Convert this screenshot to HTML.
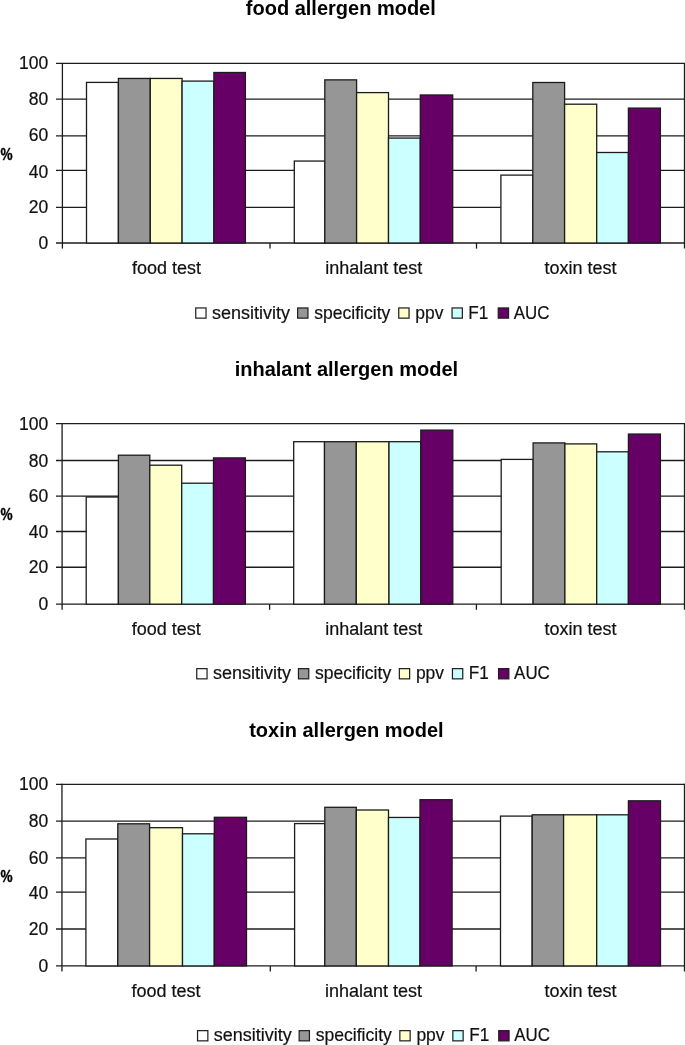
<!DOCTYPE html>
<html><head><meta charset="utf-8"><title>allergen models</title>
<style>
html,body{margin:0;padding:0;background:#fff;}
body{width:685px;height:1045px;overflow:hidden;}
svg{display:block;}
text{font-family:"Liberation Sans",Arial,sans-serif;fill:#111;}
.y,.c,.l{stroke:#111;stroke-width:0.2px;}
.t{font-weight:bold;font-size:20px;text-anchor:middle;fill:#000;}
.y{font-size:17.5px;text-anchor:end;}
.c{font-size:18px;text-anchor:middle;}
.l{font-size:18px;}
.p{font-weight:bold;font-size:17px;fill:#000;stroke:#000;stroke-width:0.4px;stroke-linejoin:round;}
</style></head><body>
<svg width="685" height="1045" viewBox="0 0 685 1045">
<rect width="685" height="1045" fill="#fff"/>

<g>
<text class="t" x="340.8" y="15.4">food allergen model</text>
<g stroke="#1c1c1c" stroke-width="1.3" fill="none">
<line x1="56" y1="63.40" x2="685" y2="63.40"/>
<line x1="56" y1="99.10" x2="685" y2="99.10"/>
<line x1="56" y1="135.90" x2="685" y2="135.90"/>
<line x1="56" y1="170.40" x2="685" y2="170.40"/>
<line x1="56" y1="207.40" x2="685" y2="207.40"/>
<line x1="56" y1="243.00" x2="685" y2="243.00"/>
<line x1="62.4" y1="62.90" x2="62.4" y2="248.60"/>
<line x1="270.00" y1="243.00" x2="270.00" y2="248.60"/>
<line x1="476.50" y1="243.00" x2="476.50" y2="248.60"/>
<line x1="684.50" y1="62.90" x2="684.50" y2="248.60"/>
</g>
<text class="y" x="48.3" y="68.8">100</text>
<text class="y" x="48.3" y="104.7">80</text>
<text class="y" x="48.3" y="141.1">60</text>
<text class="y" x="48.3" y="177.6">40</text>
<text class="y" x="48.3" y="213.2">20</text>
<text class="y" x="48.3" y="248.5">0</text>
<text class="p" transform="translate(0.5 159.6) scale(0.8 1)">%</text>
<g stroke="#1c1c1c" stroke-width="1.3">
<rect x="86.50" y="82.40" width="31.90" height="160.60" fill="#ffffff"/>
<rect x="118.40" y="78.45" width="31.90" height="164.55" fill="#969696"/>
<rect x="150.30" y="78.45" width="31.80" height="164.55" fill="#ffffcc"/>
<rect x="182.10" y="81.10" width="31.80" height="161.90" fill="#ccffff"/>
<rect x="213.90" y="72.50" width="31.50" height="170.50" fill="#660066"/>
<rect x="294.30" y="161.06" width="30.50" height="81.94" fill="#ffffff"/>
<rect x="324.80" y="79.86" width="31.80" height="163.14" fill="#969696"/>
<rect x="356.60" y="92.60" width="31.90" height="150.40" fill="#ffffcc"/>
<rect x="388.50" y="138.07" width="31.80" height="104.93" fill="#ccffff"/>
<rect x="420.30" y="94.97" width="32.40" height="148.03" fill="#660066"/>
<rect x="500.90" y="175.10" width="31.90" height="67.90" fill="#ffffff"/>
<rect x="532.80" y="82.50" width="31.80" height="160.50" fill="#969696"/>
<rect x="564.60" y="104.20" width="32.10" height="138.80" fill="#ffffcc"/>
<rect x="596.70" y="152.50" width="31.70" height="90.50" fill="#ccffff"/>
<rect x="628.40" y="108.10" width="32.00" height="134.90" fill="#660066"/>
</g>
<text class="c" x="166.5" y="274.2">food test</text>
<text class="c" x="373.8" y="274.2">inhalant test</text>
<text class="c" x="580.6" y="274.2">toxin test</text>
<rect x="195.75" y="307.95" width="10.3" height="10.2" fill="#ffffff" stroke="#1c1c1c" stroke-width="1.2"/>
<text class="l" transform="translate(211.90 318.6) scale(1.0 1)">sensitivity</text>
<rect x="297.65" y="307.95" width="10.3" height="10.2" fill="#969696" stroke="#1c1c1c" stroke-width="1.2"/>
<text class="l" transform="translate(314.20 318.6) scale(0.977 1)">specificity</text>
<rect x="398.75" y="307.95" width="10.3" height="10.2" fill="#ffffcc" stroke="#1c1c1c" stroke-width="1.2"/>
<text class="l" transform="translate(415.30 318.6) scale(0.97 1)">ppv</text>
<rect x="452.05" y="307.95" width="10.3" height="10.2" fill="#ccffff" stroke="#1c1c1c" stroke-width="1.2"/>
<text class="l" transform="translate(468.35 318.6) scale(0.955 1)">F1</text>
<rect x="498.25" y="307.95" width="10.3" height="10.2" fill="#660066" stroke="#1c1c1c" stroke-width="1.2"/>
<text class="l" transform="translate(513.80 318.6) scale(0.94 1)">AUC</text>
</g>
<g>
<text class="t" x="346.4" y="375.5">inhalant allergen model</text>
<g stroke="#1c1c1c" stroke-width="1.3" fill="none">
<line x1="56" y1="423.60" x2="685" y2="423.60"/>
<line x1="56" y1="460.50" x2="685" y2="460.50"/>
<line x1="56" y1="496.20" x2="685" y2="496.20"/>
<line x1="56" y1="531.50" x2="685" y2="531.50"/>
<line x1="56" y1="567.26" x2="685" y2="567.26"/>
<line x1="56" y1="604.17" x2="685" y2="604.17"/>
<line x1="62.1" y1="423.10" x2="62.1" y2="609.77"/>
<line x1="269.60" y1="604.17" x2="269.60" y2="609.77"/>
<line x1="476.40" y1="604.17" x2="476.40" y2="609.77"/>
<line x1="684.50" y1="423.10" x2="684.50" y2="609.77"/>
</g>
<text class="y" x="48.3" y="429.7">100</text>
<text class="y" x="48.3" y="466.6">80</text>
<text class="y" x="48.3" y="501.9">60</text>
<text class="y" x="48.3" y="538.4">40</text>
<text class="y" x="48.3" y="572.6">20</text>
<text class="y" x="48.3" y="610.0">0</text>
<text class="p" transform="translate(0.5 519.7) scale(0.8 1)">%</text>
<g stroke="#1c1c1c" stroke-width="1.3">
<rect x="86.20" y="497.00" width="32.20" height="107.17" fill="#ffffff"/>
<rect x="118.40" y="455.20" width="31.40" height="148.97" fill="#969696"/>
<rect x="149.80" y="465.20" width="31.90" height="138.97" fill="#ffffcc"/>
<rect x="181.70" y="483.20" width="31.80" height="120.97" fill="#ccffff"/>
<rect x="213.50" y="457.90" width="31.90" height="146.27" fill="#660066"/>
<rect x="293.70" y="441.70" width="30.80" height="162.47" fill="#ffffff"/>
<rect x="324.50" y="441.70" width="31.80" height="162.47" fill="#969696"/>
<rect x="356.30" y="441.70" width="32.70" height="162.47" fill="#ffffcc"/>
<rect x="389.00" y="441.70" width="31.80" height="162.47" fill="#ccffff"/>
<rect x="420.80" y="430.10" width="32.00" height="174.07" fill="#660066"/>
<rect x="501.20" y="459.40" width="31.90" height="144.77" fill="#ffffff"/>
<rect x="533.10" y="442.90" width="31.80" height="161.27" fill="#969696"/>
<rect x="564.90" y="443.90" width="31.80" height="160.27" fill="#ffffcc"/>
<rect x="596.70" y="451.80" width="31.70" height="152.37" fill="#ccffff"/>
<rect x="628.40" y="434.05" width="32.00" height="170.12" fill="#660066"/>
</g>
<text class="c" x="166.2" y="635.4">food test</text>
<text class="c" x="373.7" y="635.4">inhalant test</text>
<text class="c" x="580.6" y="635.4">toxin test</text>
<rect x="196.75" y="668.65" width="10.3" height="10.2" fill="#ffffff" stroke="#1c1c1c" stroke-width="1.2"/>
<text class="l" transform="translate(212.90 679.3) scale(1.0 1)">sensitivity</text>
<rect x="298.45" y="668.65" width="10.3" height="10.2" fill="#969696" stroke="#1c1c1c" stroke-width="1.2"/>
<text class="l" transform="translate(315.00 679.3) scale(0.977 1)">specificity</text>
<rect x="399.35" y="668.65" width="10.3" height="10.2" fill="#ffffcc" stroke="#1c1c1c" stroke-width="1.2"/>
<text class="l" transform="translate(415.90 679.3) scale(0.97 1)">ppv</text>
<rect x="452.45" y="668.65" width="10.3" height="10.2" fill="#ccffff" stroke="#1c1c1c" stroke-width="1.2"/>
<text class="l" transform="translate(468.75 679.3) scale(0.955 1)">F1</text>
<rect x="498.55" y="668.65" width="10.3" height="10.2" fill="#660066" stroke="#1c1c1c" stroke-width="1.2"/>
<text class="l" transform="translate(514.10 679.3) scale(0.94 1)">AUC</text>
</g>
<g>
<text class="t" x="346.4" y="737">toxin allergen model</text>
<g stroke="#1c1c1c" stroke-width="1.3" fill="none">
<line x1="56" y1="784.34" x2="685" y2="784.34"/>
<line x1="56" y1="821.13" x2="685" y2="821.13"/>
<line x1="56" y1="857.96" x2="685" y2="857.96"/>
<line x1="56" y1="892.18" x2="685" y2="892.18"/>
<line x1="56" y1="929.00" x2="685" y2="929.00"/>
<line x1="56" y1="965.92" x2="685" y2="965.92"/>
<line x1="61.95" y1="783.84" x2="61.95" y2="971.52"/>
<line x1="270.30" y1="965.92" x2="270.30" y2="971.52"/>
<line x1="476.10" y1="965.92" x2="476.10" y2="971.52"/>
<line x1="684.50" y1="783.84" x2="684.50" y2="971.52"/>
</g>
<text class="y" x="48.3" y="789.5">100</text>
<text class="y" x="48.3" y="826.6">80</text>
<text class="y" x="48.3" y="864.0">60</text>
<text class="y" x="48.3" y="898.9">40</text>
<text class="y" x="48.3" y="934.9">20</text>
<text class="y" x="48.3" y="972.0">0</text>
<text class="p" transform="translate(0.5 881.6) scale(0.8 1)">%</text>
<g stroke="#1c1c1c" stroke-width="1.3">
<rect x="85.90" y="839.00" width="31.90" height="126.92" fill="#ffffff"/>
<rect x="117.80" y="823.80" width="31.80" height="142.12" fill="#969696"/>
<rect x="149.60" y="827.70" width="32.90" height="138.22" fill="#ffffcc"/>
<rect x="182.50" y="833.80" width="31.80" height="132.12" fill="#ccffff"/>
<rect x="214.30" y="817.30" width="32.20" height="148.62" fill="#660066"/>
<rect x="294.60" y="823.60" width="30.20" height="142.32" fill="#ffffff"/>
<rect x="324.80" y="807.30" width="31.50" height="158.62" fill="#969696"/>
<rect x="356.30" y="810.00" width="32.20" height="155.92" fill="#ffffcc"/>
<rect x="388.50" y="817.45" width="31.50" height="148.47" fill="#ccffff"/>
<rect x="420.00" y="799.70" width="32.10" height="166.22" fill="#660066"/>
<rect x="500.50" y="816.10" width="31.70" height="149.82" fill="#ffffff"/>
<rect x="532.20" y="814.80" width="31.40" height="151.12" fill="#969696"/>
<rect x="563.60" y="814.80" width="33.10" height="151.12" fill="#ffffcc"/>
<rect x="596.70" y="814.80" width="31.70" height="151.12" fill="#ccffff"/>
<rect x="628.40" y="800.80" width="32.10" height="165.12" fill="#660066"/>
</g>
<text class="c" x="166.1" y="997.1">food test</text>
<text class="c" x="373.6" y="997.1">inhalant test</text>
<text class="c" x="580.5" y="997.1">toxin test</text>
<rect x="197.55" y="1030.65" width="10.3" height="10.2" fill="#ffffff" stroke="#1c1c1c" stroke-width="1.2"/>
<text class="l" transform="translate(213.70 1041.3) scale(1.0 1)">sensitivity</text>
<rect x="299.15" y="1030.65" width="10.3" height="10.2" fill="#969696" stroke="#1c1c1c" stroke-width="1.2"/>
<text class="l" transform="translate(315.70 1041.3) scale(0.977 1)">specificity</text>
<rect x="399.85" y="1030.65" width="10.3" height="10.2" fill="#ffffcc" stroke="#1c1c1c" stroke-width="1.2"/>
<text class="l" transform="translate(416.40 1041.3) scale(0.97 1)">ppv</text>
<rect x="452.85" y="1030.65" width="10.3" height="10.2" fill="#ccffff" stroke="#1c1c1c" stroke-width="1.2"/>
<text class="l" transform="translate(469.15 1041.3) scale(0.955 1)">F1</text>
<rect x="498.75" y="1030.65" width="10.3" height="10.2" fill="#660066" stroke="#1c1c1c" stroke-width="1.2"/>
<text class="l" transform="translate(514.30 1041.3) scale(0.94 1)">AUC</text>
</g>
</svg></body></html>
